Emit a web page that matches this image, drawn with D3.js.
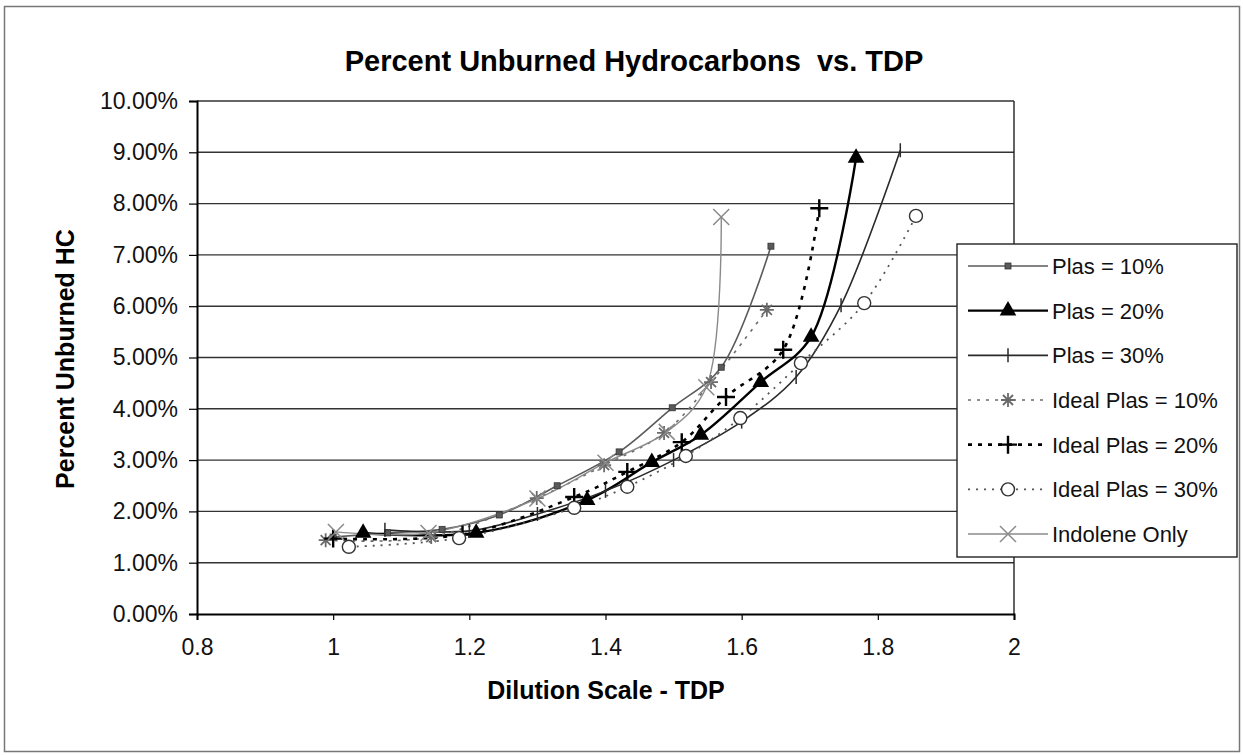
<!DOCTYPE html>
<html>
<head>
<meta charset="utf-8">
<script src="https://d3js.org/d3.v7.min.js"></script>
<style>
  body { margin: 0; background: #fff; }
  svg { display: block; font-family: "Liberation Sans", Arial, sans-serif; }
</style>
</head>
<body>
<div id="app"></div>
<script>
// data (x = TDP, y = percent unburned HC)
const plas10X = [1.00, 1.08, 1.16, 1.244, 1.329, 1.420, 1.498, 1.570, 1.643];
const plas10Y = [1.50, 1.58, 1.65, 1.93, 2.50, 3.16, 4.02, 4.81, 7.17];

const plas20X = [1.044, 1.210, 1.373, 1.468, 1.540, 1.628, 1.702, 1.768];
const plas20Y = [1.58, 1.58, 2.22, 2.96, 3.49, 4.52, 5.40, 8.89];

const plas30X = [1.076, 1.20, 1.30, 1.40, 1.50, 1.60, 1.680, 1.746, 1.833];
const plas30Y = [1.64, 1.62, 1.95, 2.40, 3.00, 3.75, 4.62, 6.02, 9.04];

const ideal10X = [0.989, 1.144, 1.299, 1.398, 1.486, 1.555, 1.637];
const ideal10Y = [1.44, 1.50, 2.26, 2.90, 3.53, 4.52, 5.93];

const ideal20X = [1.00, 1.19, 1.354, 1.432, 1.512, 1.577, 1.661, 1.714];
const ideal20Y = [1.47, 1.55, 2.28, 2.77, 3.35, 4.23, 5.15, 7.91];

const ideal30X = [1.023, 1.185, 1.354, 1.432, 1.518, 1.598, 1.687, 1.780, 1.856];
const ideal30Y = [1.31, 1.48, 2.07, 2.48, 3.08, 3.82, 4.89, 6.06, 7.76];

const indoleneX = [1.004, 1.14, 1.30, 1.40, 1.49, 1.548, 1.570];
const indoleneY = [1.60, 1.58, 2.25, 2.95, 3.55, 4.42, 7.74];

const xTicks = [0.8, 1, 1.2, 1.4, 1.6, 1.8, 2];
const yTicks = [0, 1, 2, 3, 4, 5, 6, 7, 8, 9, 10];

const seriesNames = ["Plas = 10%", "Plas = 20%", "Plas = 30%", "Ideal Plas = 10%",
  "Ideal Plas = 20%", "Ideal Plas = 30%", "Indolene Only"];

// styles per series
const styles = [
  { color: "#5a5a5a", width: 1.6, dash: null, marker: "dot" },
  { color: "#000", width: 2.4, dash: null, marker: "triangle" },
  { color: "#2a2a2a", width: 1.6, dash: null, marker: "tick" },
  { color: "#6a6a6a", width: 1.6, dash: "3,6", marker: "star" },
  { color: "#000", width: 2.6, dash: "4,6", marker: "plus" },
  { color: "#555", width: 1.8, dash: "2,6", marker: "circle" },
  { color: "#8a8a8a", width: 1.4, dash: null, marker: "cross" }
];

const series = [
  [plas10X, plas10Y], [plas20X, plas20Y], [plas30X, plas30Y],
  [ideal10X, ideal10Y], [ideal20X, ideal20Y], [ideal30X, ideal30Y],
  [indoleneX, indoleneY]
].map(([xs, ys], i) => ({
  name: seriesNames[i],
  style: styles[i],
  points: xs.map((x, j) => ({ x: x, y: ys[j] / 100 }))
}));

const W = 1243, H = 755;
const svg = d3.select("#app").append("svg")
  .attr("width", W).attr("height", H);

// outer chart border
svg.append("rect")
  .attr("x", 4.5).attr("y", 6.5).attr("width", 1235).attr("height", 745)
  .attr("fill", "#fff").attr("stroke", "#777").attr("stroke-width", 1.5);

const plotLeft = 197, plotRight = 1014, plotTop = 101, plotBottom = 614;

const x = d3.scaleLinear().domain([0.8, 2]).range([plotLeft, plotRight]);
const y = d3.scaleLinear().domain([0, 0.10]).range([plotBottom, plotTop]);

// gridlines
svg.append("g").selectAll("line")
  .data(yTicks.slice(1))
  .join("line")
  .attr("x1", plotLeft).attr("x2", plotRight)
  .attr("y1", d => y(d / 100)).attr("y2", d => y(d / 100))
  .attr("stroke", "#333").attr("stroke-width", 1.4);

// plot frame (right side)
svg.append("line")
  .attr("x1", plotRight).attr("x2", plotRight).attr("y1", plotTop).attr("y2", plotBottom)
  .attr("stroke", "#222").attr("stroke-width", 1.4);

// axes
const xAxis = svg.append("g")
  .attr("transform", `translate(0,${plotBottom})`)
  .call(d3.axisBottom(x).tickValues(xTicks).tickSize(6).tickPadding(19)
    .tickFormat(d3.format("")));
const yAxis = svg.append("g")
  .attr("transform", `translate(${plotLeft},0)`)
  .call(d3.axisLeft(y).tickValues(yTicks.map(d => d / 100)).tickSize(8).tickPadding(11)
    .tickFormat(d3.format(".2%")));

[xAxis, yAxis].forEach(g => {
  g.select(".domain").attr("stroke", "#000").attr("stroke-width", 2);
  g.selectAll(".tick line").attr("stroke", "#000").attr("stroke-width", 1.2);
  g.selectAll(".tick text").attr("fill", "#111").style("font-size", "23px")
    .style("font-family", "'Liberation Sans', Arial, sans-serif");
});

// titles
svg.append("text")
  .attr("x", 634).attr("y", 71)
  .attr("text-anchor", "middle")
  .style("font-size", "29px").style("font-weight", "bold")
  .style("white-space", "pre")
  .text("Percent Unburned Hydrocarbons  vs. TDP");

svg.append("text")
  .attr("x", 606).attr("y", 699)
  .attr("text-anchor", "middle")
  .style("font-size", "25px").style("font-weight", "bold")
  .text("Dilution Scale - TDP");

svg.append("text")
  .attr("transform", "translate(74,359) rotate(-90)")
  .attr("text-anchor", "middle")
  .style("font-size", "25px").style("font-weight", "bold")
  .text("Percent Unburned HC");

// marker drawing
function drawMarker(g, type, color) {
  if (type === "dot") {
    g.append("rect").attr("x", -3).attr("y", -3).attr("width", 6).attr("height", 6)
      .attr("fill", color).attr("stroke", "#333").attr("stroke-width", 0.8);
  } else if (type === "triangle") {
    g.append("path").attr("d", d3.symbol(d3.symbolTriangle, 120)())
      .attr("fill", "#000");
  } else if (type === "tick") {
    g.append("line").attr("x1", 0).attr("x2", 0).attr("y1", -7).attr("y2", 7)
      .attr("stroke", color).attr("stroke-width", 1.5);
  } else if (type === "star") {
    g.append("path").attr("d", "M-7,0H7M0,-7V7M-5,-5L5,5M-5,5L5,-5")
      .attr("stroke", color).attr("stroke-width", 1.8);
  } else if (type === "plus") {
    g.append("path").attr("d", "M-9,0H9M0,-9V9")
      .attr("stroke", "#000").attr("stroke-width", 2.4);
  } else if (type === "circle") {
    g.append("circle").attr("r", 6.5)
      .attr("fill", "#fff").attr("stroke", "#333").attr("stroke-width", 1.4);
  } else if (type === "cross") {
    g.append("path").attr("d", "M-8,-8L8,8M-8,8L8,-8")
      .attr("stroke", color).attr("stroke-width", 1.5);
  }
}

const line = d3.line()
  .x(d => x(d.x)).y(d => y(d.y))
  .curve(d3.curveCatmullRom.alpha(0.5));

const plot = svg.append("g");
series.forEach(s => {
  plot.append("path")
    .datum(s.points)
    .attr("d", line)
    .attr("fill", "none")
    .attr("stroke", s.style.color)
    .attr("stroke-width", s.style.width)
    .attr("stroke-dasharray", s.style.dash);
});
series.forEach(s => {
  plot.append("g").selectAll("g")
    .data(s.points)
    .join("g")
    .attr("transform", d => `translate(${x(d.x)},${y(d.y)})`)
    .each(function () { drawMarker(d3.select(this), s.style.marker, s.style.color); });
});

// legend
const lgX = 957, lgY = 244, lgW = 280, lgH = 313;
const legend = svg.append("g");
legend.append("rect")
  .attr("x", lgX).attr("y", lgY).attr("width", lgW).attr("height", lgH)
  .attr("fill", "#fff").attr("stroke", "#222").attr("stroke-width", 1.4);

const rowY = d3.scalePoint().domain(seriesNames).range([lgY + 22, lgY + 290]);
series.forEach(s => {
  const r = legend.append("g").attr("transform", `translate(0,${rowY(s.name)})`);
  r.append("line")
    .attr("x1", lgX + 11).attr("x2", lgX + 91).attr("y1", 0).attr("y2", 0)
    .attr("stroke", s.style.color).attr("stroke-width", s.style.width)
    .attr("stroke-dasharray", s.style.dash);
  drawMarker(r.append("g").attr("transform", `translate(${lgX + 51},0)`), s.style.marker, s.style.color);
  r.append("text")
    .attr("x", lgX + 95).attr("y", 8)
    .style("font-size", "22px").attr("fill", "#111")
    .text(s.name);
});
</script>
</body>
</html>
